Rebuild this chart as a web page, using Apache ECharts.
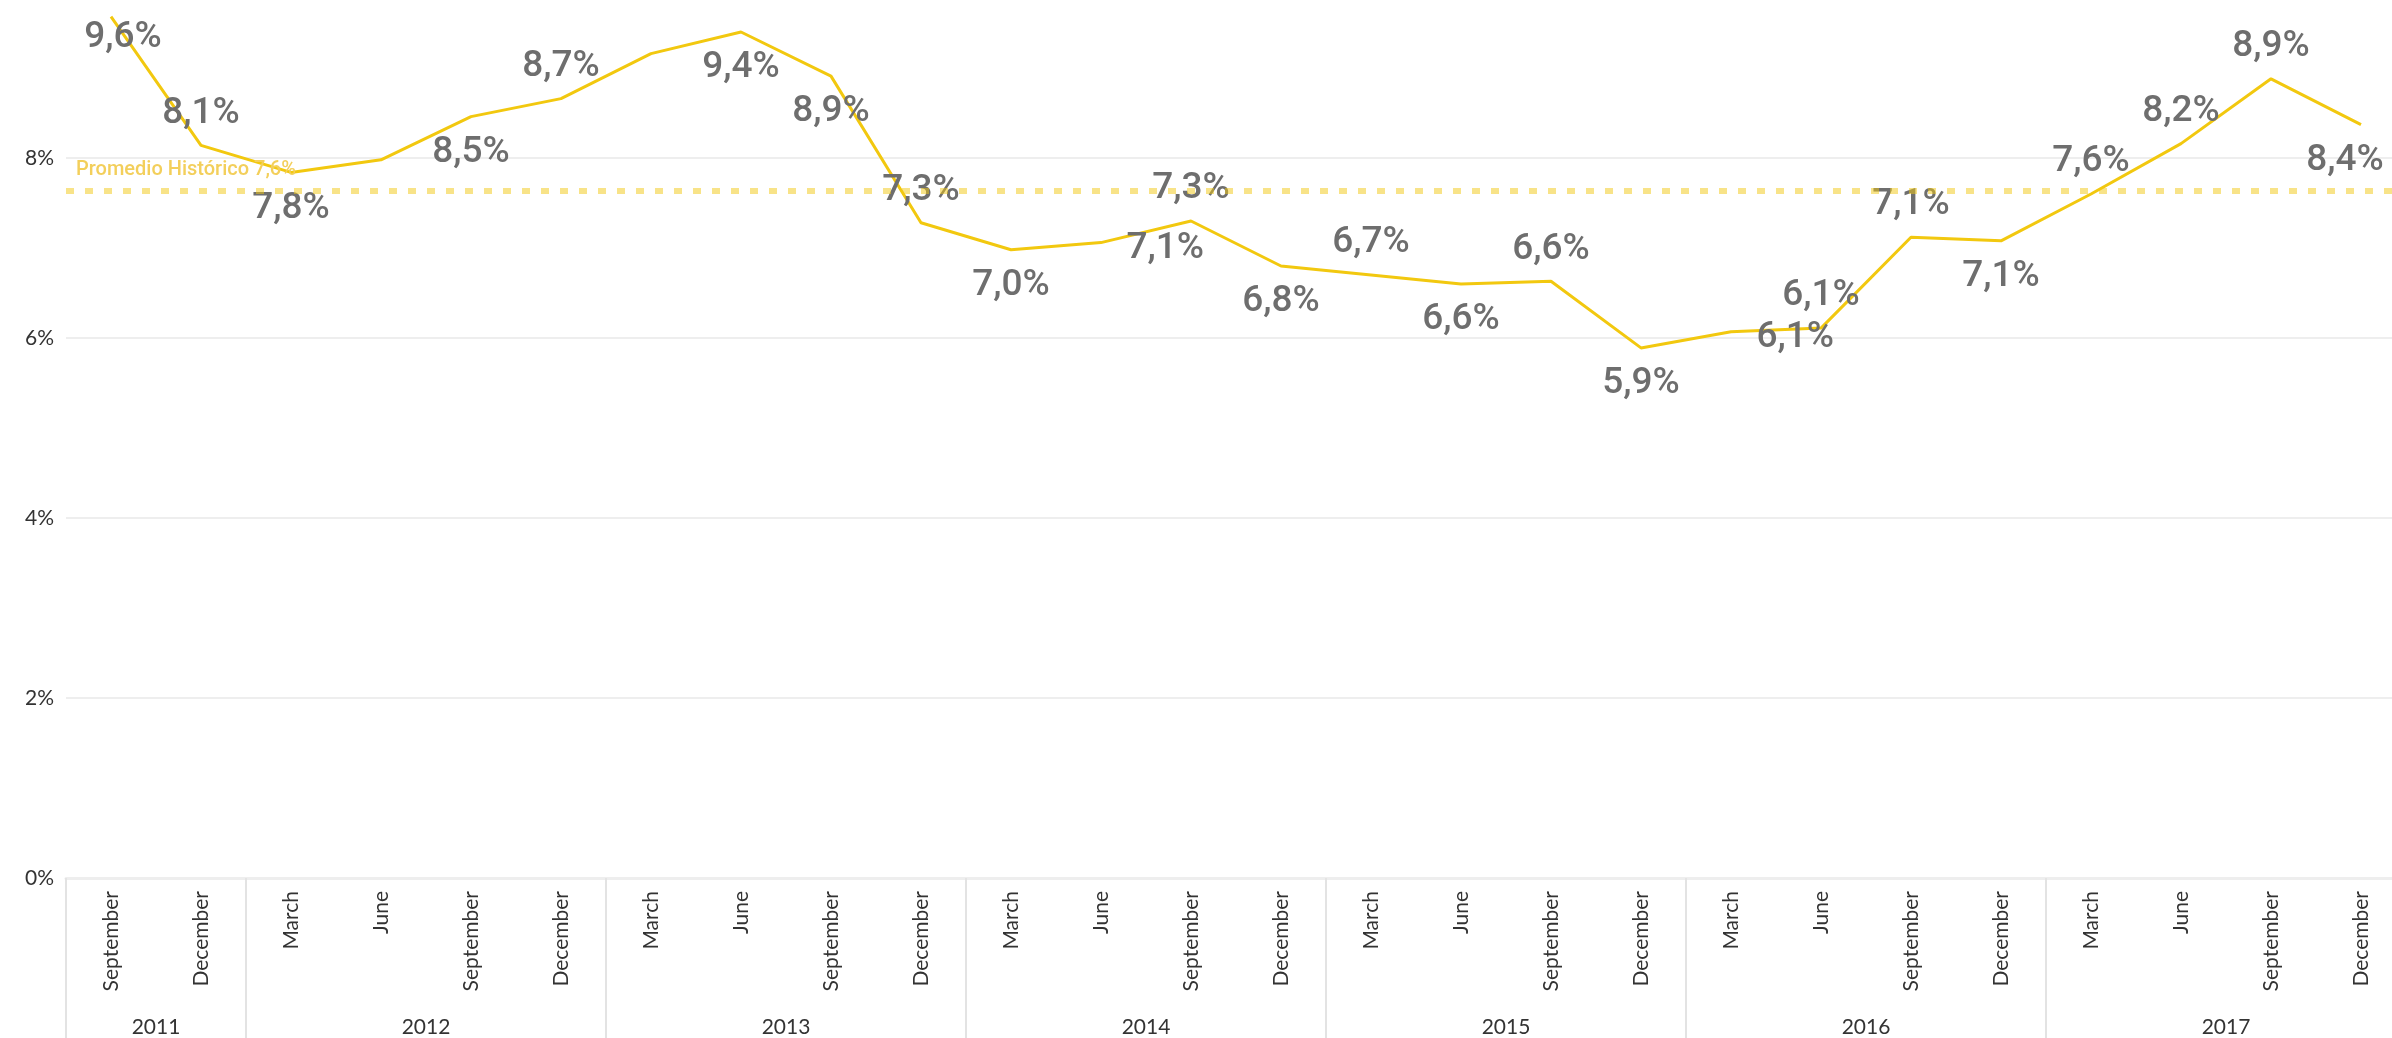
<!DOCTYPE html>
<html>
<head>
<meta charset="utf-8">
<title>Promedio Histórico</title>
<script src="https://cdn.jsdelivr.net/npm/echarts@6/dist/echarts.min.js"></script>
<style>
    html, body { margin: 0; padding: 0; background: #fff; }
    #main { width: 2392px; height: 1038px; }
</style>
</head>
<body>
<div id="main"></div>
<script>
// datos trimestrales
var meses = ['September', 'December',
    'March', 'June', 'September', 'December',
    'March', 'June', 'September', 'December',
    'March', 'June', 'September', 'December',
    'March', 'June', 'September', 'December',
    'March', 'June', 'September', 'December',
    'March', 'June', 'September', 'December'];
var valores = [9.57, 8.14, 7.84, 7.98, 8.46, 8.66, 9.16, 9.40, 8.91, 7.28,
    6.98, 7.06, 7.30, 6.80, 6.70, 6.60, 6.63, 5.89, 6.07, 6.11,
    7.12, 7.08, 7.60, 8.16, 8.88, 8.37];
var anios = ['2011', '2012', '2013', '2014', '2015', '2016', '2017'];
var trimestresPorAnio = [2, 4, 4, 4, 4, 4, 4];
var promedioHistorico = 7.64;

// donde va cada etiqueta ('' = sin etiqueta)
var posEtiqueta = ['bottom', 'top', 'bottom', '', 'bottom', 'top', '', 'bottom', 'bottom', 'top',
    'bottom', 'right', 'top', 'bottom', 'top', 'bottom', 'top', 'bottom', 'right', 'top',
    'top', 'bottom', 'top', 'top', 'top', 'bottom'];

var fmt = function (v) {
    return v.toFixed(1).replace('.', ',') + '%';
};

// eje de años: 27 limites, etiqueta en el medio de cada grupo
var etiquetasAnio = [];
for (var i = 0; i <= meses.length; i++) etiquetasAnio.push('');
var cortes = {0: true};
var pos = 0;
for (var i = 0; i < anios.length; i++) {
    etiquetasAnio[pos + trimestresPorAnio[i] / 2] = anios[i];
    pos += trimestresPorAnio[i];
    cortes[pos] = true;
}

var puntos = [];
for (var i = 0; i < valores.length; i++) {
    var p = posEtiqueta[i];
    var lbl;
    if (p == '') {
        lbl = {show: false};
    } else if (p == 'right') {
        lbl = {show: true, position: 'right', distance: 24, offset: [0, 6]};
    } else {
        lbl = {show: true, position: p, distance: p == 'top' ? 12 : 16};
    }
    // los extremos se corren para no salirse del area
    if (i == 0) lbl.offset = [12, -15];
    if (i == valores.length - 1) lbl.offset = [-16, 0];
    puntos.push({value: valores[i], label: lbl});
}

var myChart = echarts.init(document.getElementById('main'));

option = {
    animation: false,
    grid: {
        left: 66,
        right: -14,
        top: -22,
        bottom: 160,
        outerBoundsMode: 'none'
    },
    xAxis: [
        {
            type: 'category',
            data: meses,
            position: 'bottom',
            axisLine: {show: true, lineStyle: {color: '#EEEEEE', width: 3}},
            axisTick: {show: false},
            axisLabel: {
                interval: 0,
                rotate: 90,
                margin: 13,
                color: '#333333',
                fontSize: 21,
                fontFamily: 'Lato'
            }
        },
        {
            type: 'category',
            data: etiquetasAnio,
            position: 'bottom',
            boundaryGap: false,
            axisLine: {show: false},
            axisTick: {
                show: true,
                length: 160,
                interval: function (idx) { return !!cortes[idx]; },
                lineStyle: {color: '#E3E3E3', width: 2}
            },
            axisLabel: {
                interval: function (idx, v) { return v != ''; },
                margin: 139,
                color: '#333333',
                fontSize: 21,
                fontFamily: 'Lato'
            },
            splitLine: {show: false}
        }
    ],
    yAxis: {
        type: 'value',
        min: 0,
        max: 10,
        interval: 2,
        axisLine: {show: false},
        axisTick: {show: false},
        axisLabel: {
            margin: 12,
            color: '#333333',
            fontSize: 21,
            fontFamily: 'Lato',
            formatter: function (v) { return v + '%'; }
        },
        splitLine: {lineStyle: {color: '#E8E8E8', width: 1.5}}
    },
    series: [
        {
            name: 'Tasa',
            type: 'line',
            xAxisIndex: 0,
            data: puntos,
            symbol: 'circle',
            symbolSize: 2,
            showSymbol: true,
            itemStyle: {color: 'rgba(0,0,0,0)', borderColor: 'rgba(0,0,0,0)'},
            lineStyle: {color: '#F2C80F', width: 3},
            label: {
                color: '#6E6E6E',
                fontSize: 37,
                lineHeight: 37,
                fontWeight: 500,
                fontFamily: 'Roboto',
                formatter: function (p) { return fmt(p.value); }
            },
            markLine: {
                silent: true,
                symbol: 'none',
                data: [{yAxis: promedioHistorico}],
                lineStyle: {type: [8, 11], color: 'rgba(242,200,17,0.5)', width: 6},
                label: {
                    position: 'insideStartTop',
                    formatter: 'Promedio Histórico ' + fmt(promedioHistorico),
                    color: '#F3CF5B',
                    fontSize: 20,
                    fontWeight: 500,
                    fontFamily: 'Roboto',
                    distance: 10
                }
            }
        }
    ]
};

myChart.setOption(option);
</script>
</body>
</html>
